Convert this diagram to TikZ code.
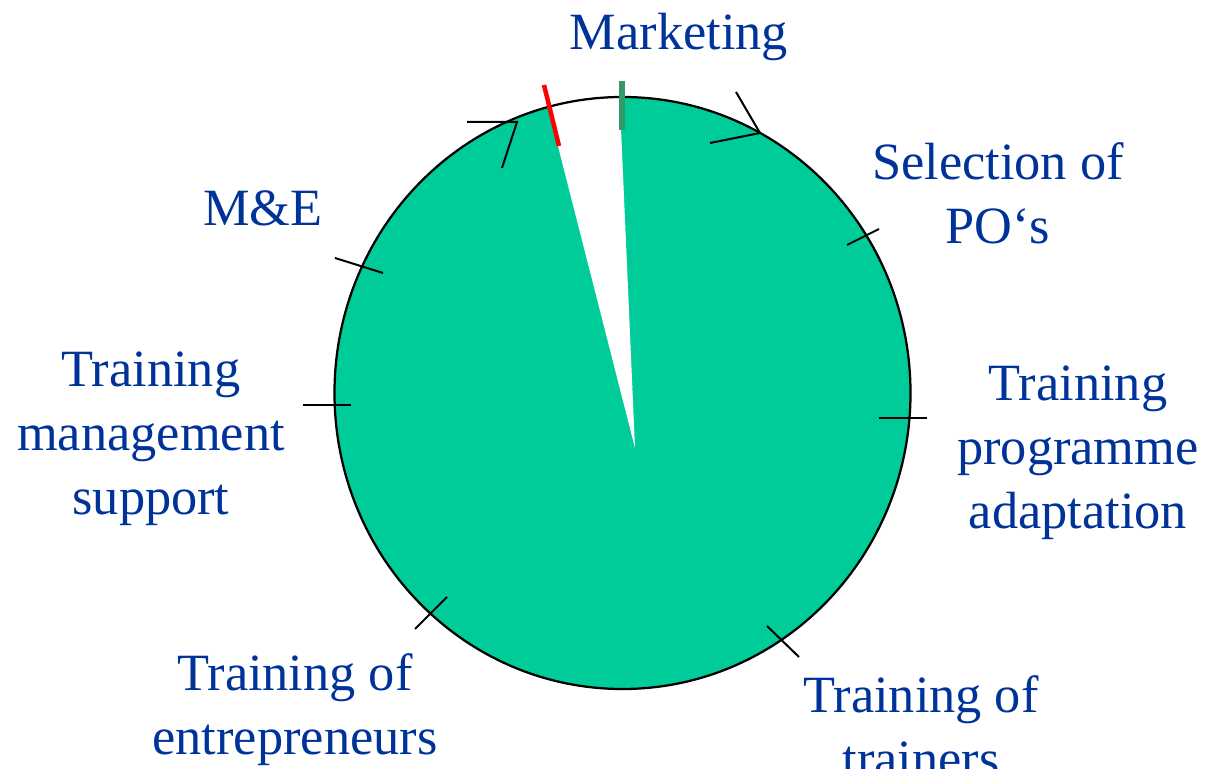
\documentclass[tikz,border=0pt]{standalone}
\usepackage{fontspec}
\setmainfont{Liberation Serif}
\definecolor{piegreen}{RGB}{0,204,153}
\definecolor{markgreen}{RGB}{51,153,102}
\definecolor{labelblue}{RGB}{0,51,153}
\begin{document}
\begin{tikzpicture}[x=0.2mm,y=-0.2mm,
  lbl/.style={text=labelblue,align=center,inner sep=0pt,
    font=\fontsize{29.8}{36.4}\selectfont},
  tick/.style={line width=0.4mm}]
\useasboundingbox (0,0) rectangle (1215,769);

\fill[piegreen] (622.5,393) ellipse [x radius=57.6mm, y radius=59.2mm];
\begin{scope}
\clip (622.5,393) ellipse [x radius=57.6mm, y radius=59.2mm];
\fill[white] (635,448) -- (536,60) -- (618,60) -- cycle;
\end{scope}
\draw[line width=0.45mm] (622.5,393) ellipse [x radius=57.6mm, y radius=59.2mm];

\draw[red,line width=0.9mm] (544,85) -- (559,146);
\draw[markgreen,line width=1.2mm] (622,81) -- (622,130);

\draw[tick] (736,92) -- (760,133) -- (710,143);
\draw[tick] (467,122) -- (517,122) -- (502,168);
\draw[tick] (335,258) -- (383,273);
\draw[tick] (303,405) -- (351,405);
\draw[tick] (847,245) -- (879,229);
\draw[tick] (879,418) -- (927,418);
\draw[tick] (415,629) -- (447,597);
\draw[tick] (767,626) -- (799,657);

\node[lbl] (mkt) at (679,37) {Marketing};
\node[lbl] (sel) at (998,193) {Selection of\\PO‘s};
\node[lbl] (me) at (263,208) {M\&E};
\node[lbl] (mgmt) at (151,439) {Training\\management\\support};
\node[lbl] (prog) at (1078,453) {Training\\programme\\adaptation};
\node[lbl] (entr) at (295,710) {Training of\\entrepreneurs};
\node[lbl] (trnr) at (921,726) {Training of\\trainers};
\end{tikzpicture}
\end{document}
